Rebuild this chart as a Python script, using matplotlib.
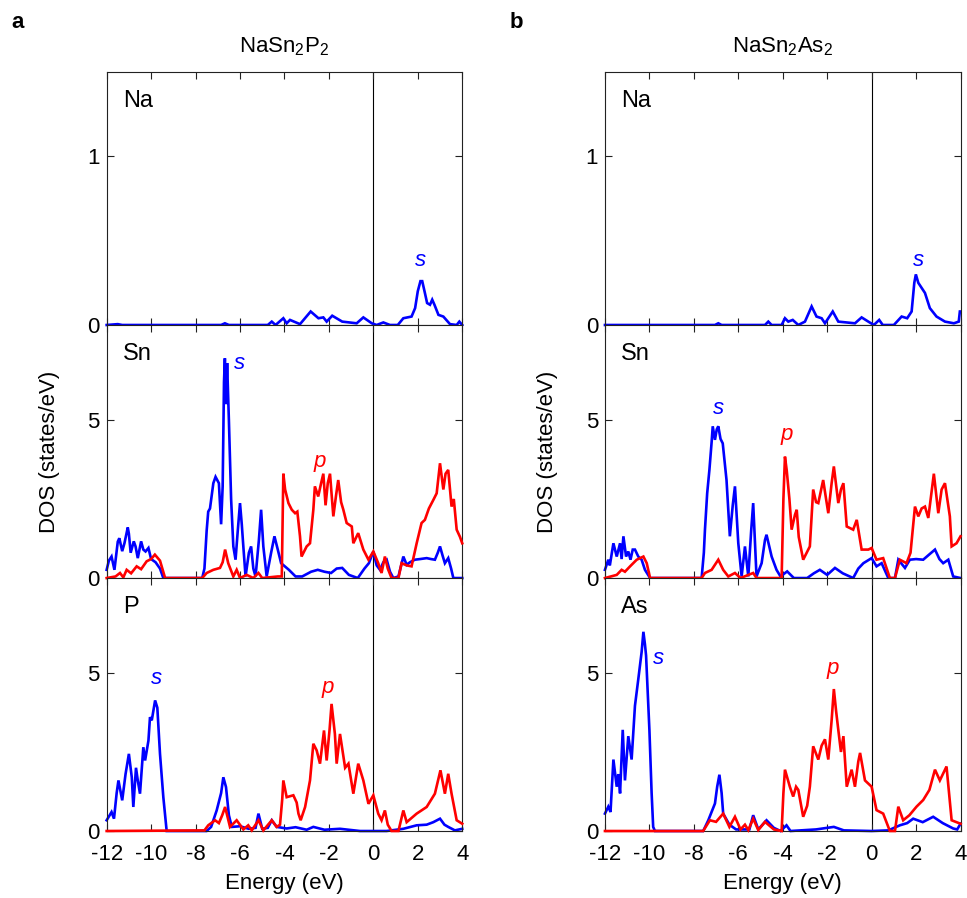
import numpy as np
import matplotlib
matplotlib.use("Agg")
import matplotlib.pyplot as plt

plt.rcParams['font.family'] = ['Liberation Sans', 'DejaVu Sans']
plt.rcParams['mathtext.fontset'] = 'custom'
plt.rcParams['mathtext.rm'] = 'Liberation Sans'
plt.rcParams['mathtext.it'] = 'Liberation Sans:italic'

BLUE = '#0000ff'
RED = '#ff0000'

# ---- data: (energy eV, DOS states/eV) ----
# panel a: NaSn2P2
na_a_s = [(-12, 0), (-11.5, 0.005), (-11.3, 0), (-6.85, 0), (-6.68, 0.01), (-6.5, 0), (-4.75, 0),
          (-4.57, 0.02), (-4.4, 0), (-4.05, 0.04), (-3.9, 0.01), (-3.75, 0.03), (-3.3, 0.005),
          (-2.82, 0.08), (-2.47, 0.04), (-2.25, 0.045), (-2.1, 0.02), (-1.85, 0.055), (-1.4, 0.02),
          (-0.75, 0.01), (-0.45, 0.045), (-0.07, 0.01), (0.15, 0), (0.45, 0.015), (0.75, 0), (1.1, 0),
          (1.35, 0.04), (1.72, 0.05), (1.88, 0.1), (2.0, 0.2), (2.12, 0.26), (2.2, 0.26), (2.32, 0.19),
          (2.42, 0.13), (2.55, 0.12), (2.65, 0.15), (2.75, 0.12), (2.93, 0.06), (3.15, 0.05),
          (3.45, 0.005), (3.75, 0), (3.87, 0.02), (4.0, 0)]

sn_a_s = [(-12, 0.26), (-11.9, 0.55), (-11.78, 0.68), (-11.65, 0.26), (-11.5, 1.15), (-11.43, 1.26),
          (-11.3, 0.85), (-11.2, 1.1), (-11.05, 1.6), (-11.0, 1.4), (-10.92, 0.8), (-10.78, 1.16),
          (-10.7, 1.0), (-10.6, 0.63), (-10.45, 1.16), (-10.35, 0.9), (-10.25, 0.84), (-10.12, 0.95),
          (-10.0, 0.6), (-9.8, 0.5), (-9.6, 0.3), (-9.45, 0), (-7.7, 0), (-7.6, 0.3), (-7.5, 1.5),
          (-7.43, 2.1), (-7.35, 2.2), (-7.2, 3.0), (-7.1, 3.2), (-6.95, 3.0), (-6.85, 1.7),
          (-6.78, 2.9), (-6.72, 6.2), (-6.68, 6.95), (-6.63, 5.5), (-6.58, 6.8), (-6.5, 5.0),
          (-6.4, 2.5), (-6.3, 1.0), (-6.2, 0.58), (-6.1, 1.5), (-6.0, 2.37), (-5.92, 1.7),
          (-5.85, 1.0), (-5.75, 0.05), (-5.6, 0.8), (-5.5, 1.0), (-5.4, 0.3), (-5.3, 0.05),
          (-5.15, 1.2), (-5.05, 2.16), (-4.95, 1.0), (-4.8, 0.05), (-4.6, 0.8), (-4.45, 1.32),
          (-4.3, 0.9), (-4.15, 0.47), (-3.8, 0.26), (-3.5, 0.05), (-3.2, 0.05), (-2.8, 0.2),
          (-2.5, 0.26), (-2.2, 0.2), (-1.9, 0.16), (-1.65, 0.3), (-1.4, 0.32), (-1.1, 0.1),
          (-0.7, 0), (-0.4, 0.3), (-0.2, 0.47), (0, 0.84), (0.15, 0.4), (0.3, 0.26), (0.45, 0.5),
          (0.6, 0.58), (0.75, 0.2), (0.9, 0), (1.13, 0.05), (1.35, 0.68), (1.5, 0.42), (1.65, 0.5),
          (1.87, 0.58), (2.1, 0.6), (2.4, 0.63), (2.6, 0.6), (2.77, 0.58), (2.9, 0.8), (3.0, 1.0),
          (3.12, 0.7), (3.22, 0.47), (3.37, 0.63), (3.5, 0.3), (3.6, 0), (4.0, 0)]

sn_a_p = [(-12, 0), (-11.6, 0.05), (-11.4, 0.16), (-11.25, 0.02), (-11.1, 0.26), (-10.9, 0.15),
          (-10.65, 0.37), (-10.45, 0.28), (-10.2, 0.53), (-10.0, 0.6), (-9.83, 0.74), (-9.6, 0.55),
          (-9.37, 0), (-7.7, 0), (-7.5, 0.16), (-7.2, 0.26), (-6.9, 0.32), (-6.78, 0.5), (-6.67, 0.9),
          (-6.53, 0.47), (-6.3, 0.05), (-6.15, 0.26), (-6.0, 0), (-5.7, 0.1), (-5.4, 0), (-5.17, 0.16),
          (-5.0, 0), (-4.3, 0.05), (-4.12, 0.05), (-4.05, 3.3), (-3.97, 2.8), (-3.82, 2.37),
          (-3.67, 2.16), (-3.52, 2.05), (-3.42, 2.1), (-3.3, 1.32), (-3.23, 0.68), (-3.0, 1.0),
          (-2.85, 1.1), (-2.7, 2.16), (-2.63, 2.9), (-2.48, 2.58), (-2.35, 3.0), (-2.25, 3.3),
          (-2.15, 2.3), (-2.05, 3.0), (-1.95, 3.3), (-1.8, 1.95), (-1.68, 2.6), (-1.58, 3.1),
          (-1.45, 2.4), (-1.35, 2.16), (-1.2, 1.74), (-0.97, 1.63), (-0.9, 1.1), (-0.68, 1.42),
          (-0.45, 0.9), (-0.22, 0.58), (0, 0.84), (0.22, 0.47), (0.37, 0.16), (0.52, 0.68),
          (0.65, 0.3), (0.82, 0), (1.13, 0), (1.27, 0.47), (1.5, 0.4), (1.72, 0.37), (1.95, 1.1),
          (2.17, 1.74), (2.32, 1.84), (2.5, 2.2), (2.7, 2.47), (2.85, 2.68), (3.0, 3.63), (3.15, 2.8),
          (3.25, 3.3), (3.37, 3.42), (3.52, 2.26), (3.62, 2.5), (3.75, 1.53), (3.9, 1.3), (4.0, 1.1)]

p_a_s = [(-12, 0.34), (-11.78, 0.6), (-11.67, 0.39), (-11.55, 1.2), (-11.47, 1.6), (-11.3, 0.97),
         (-11.15, 1.8), (-11.0, 2.44), (-10.87, 1.7), (-10.8, 0.76), (-10.68, 2.0), (-10.6, 1.6),
         (-10.5, 1.18), (-10.35, 2.65), (-10.27, 2.23), (-10.12, 2.86), (-10.05, 3.6), (-9.97, 3.5),
         (-9.82, 4.13), (-9.72, 3.9), (-9.6, 2.44), (-9.45, 1.07), (-9.3, 0), (-7.5, 0), (-7.3, 0.13),
         (-7.05, 0.65), (-6.85, 1.2), (-6.75, 1.7), (-6.63, 1.39), (-6.5, 0.5), (-6.37, 0.13),
         (-6.0, 0.15), (-5.6, 0.07), (-5.3, 0.1), (-5.17, 0.55), (-5.0, 0.07), (-4.75, 0.1),
         (-4.57, 0.34), (-4.35, 0.13), (-3.9, 0.08), (-3.5, 0.12), (-3.0, 0.04), (-2.7, 0.13),
         (-2.2, 0.04), (-1.5, 0.07), (-0.6, 0), (0.6, 0), (1.35, 0.07), (1.95, 0.18), (2.4, 0.2),
         (2.7, 0.28), (3.0, 0.39), (3.2, 0.2), (3.37, 0.13), (3.67, 0.02), (4.0, 0.07)]

p_a_p = [(-12, 0), (-7.6, 0.02), (-7.43, 0.18), (-7.12, 0.34), (-6.95, 0.25), (-6.8, 0.5),
         (-6.67, 0.76), (-6.45, 0.13), (-6.15, 0.34), (-5.85, 0.05), (-5.63, 0.18), (-5.47, 0.02),
         (-5.17, 0.34), (-4.95, 0.02), (-4.57, 0.34), (-4.35, 0.13), (-4.2, 0.2), (-4.1, 1.0),
         (-4.05, 1.6), (-3.9, 1.07), (-3.6, 1.13), (-3.45, 0.9), (-3.37, 0.55), (-3.27, 0.34),
         (-3.07, 0.76), (-2.85, 1.6), (-2.7, 2.76), (-2.55, 2.55), (-2.4, 2.13), (-2.22, 3.18),
         (-2.1, 2.23), (-1.97, 3.2), (-1.88, 4.02), (-1.73, 3.07), (-1.65, 2.13), (-1.5, 3.07),
         (-1.27, 2.0), (-1.12, 2.13), (-0.9, 1.18), (-0.68, 2.13), (-0.45, 1.6), (-0.22, 0.86),
         (0, 1.13), (0.22, 0.55), (0.37, 0.34), (0.52, 0.65), (0.65, 0.2), (0.82, 0), (1.13, 0),
         (1.35, 0.65), (1.5, 0.28), (1.95, 0.55), (2.4, 0.76), (2.77, 1.18), (3.02, 1.92),
         (3.22, 1.18), (3.37, 1.81), (3.52, 1.18), (3.75, 0.34), (4.0, 0.23)]

# panel b: NaSn2As2
na_b_s = [(-12, 0), (-7.05, 0), (-6.9, 0.01), (-6.75, 0), (-4.8, 0), (-4.65, 0.02), (-4.5, 0),
          (-4.05, 0), (-3.9, 0.04), (-3.75, 0.02), (-3.55, 0.03), (-3.3, 0.0), (-3.0, 0.02),
          (-2.7, 0.11), (-2.48, 0.05), (-2.25, 0.04), (-2.1, 0.01), (-1.75, 0.08), (-1.5, 0.02),
          (-0.75, 0.01), (-0.45, 0.045), (-0.15, 0.02), (0.1, 0), (0.34, 0.03), (0.5, 0), (1.0, 0),
          (1.35, 0.05), (1.6, 0.04), (1.8, 0.08), (1.92, 0.25), (1.99, 0.3), (2.1, 0.25),
          (2.2, 0.23), (2.4, 0.19), (2.62, 0.1), (2.92, 0.05), (3.3, 0.02), (3.7, 0.01),
          (3.92, 0.02), (3.97, 0.08), (4.0, 0.08)]

sn_b_s = [(-12, 0.26), (-11.85, 0.58), (-11.78, 0.4), (-11.62, 1.1), (-11.47, 0.68), (-11.32, 1.1),
          (-11.25, 0.6), (-11.17, 1.32), (-11.05, 0.68), (-10.95, 0.84), (-10.85, 0.58),
          (-10.75, 0.9), (-10.65, 0.9), (-10.5, 0.68), (-10.35, 0.58), (-10.2, 0.26), (-9.97, 0),
          (-7.65, 0), (-7.55, 0.8), (-7.5, 1.53), (-7.4, 2.68), (-7.3, 3.42), (-7.2, 4.3),
          (-7.15, 4.8), (-7.05, 4.37), (-6.97, 4.7), (-6.9, 4.8), (-6.8, 4.4), (-6.7, 4.26),
          (-6.53, 3.1), (-6.38, 1.32), (-6.25, 2.3), (-6.15, 2.9), (-6.0, 1.1), (-5.85, 0.05),
          (-5.7, 1.0), (-5.55, 0.05), (-5.42, 1.5), (-5.33, 2.37), (-5.18, 0.05), (-4.95, 0.47),
          (-4.8, 1.2), (-4.73, 1.37), (-4.5, 0.68), (-4.28, 0.26), (-4.1, 0.05), (-3.8, 0.21),
          (-3.5, 0), (-2.9, 0), (-2.6, 0.15), (-2.33, 0.26), (-2.0, 0.1), (-1.65, 0.32),
          (-1.3, 0.15), (-0.83, 0), (-0.6, 0.3), (-0.37, 0.47), (0, 0.63), (0.22, 0.37),
          (0.45, 0.47), (0.75, 0), (1.05, 0), (1.2, 0.58), (1.5, 0.32), (1.72, 0.58), (2.0, 0.6),
          (2.32, 0.58), (2.6, 0.75), (2.85, 0.9), (3.05, 0.6), (3.22, 0.47), (3.45, 0.58),
          (3.67, 0.05), (4.0, 0)]

sn_b_p = [(-12, 0), (-11.47, 0.1), (-11.25, 0.26), (-11.1, 0.2), (-10.87, 0.37), (-10.57, 0.58),
          (-10.27, 0.68), (-10.12, 0.47), (-9.97, 0), (-7.65, 0), (-7.5, 0.16), (-7.2, 0.26),
          (-6.9, 0.58), (-6.68, 0.26), (-6.45, 0.05), (-6.15, 0.16), (-5.9, 0), (-5.33, 0.16),
          (-5.18, 0), (-4.05, 0), (-3.97, 2.5), (-3.9, 3.84), (-3.82, 3.4), (-3.7, 2.5),
          (-3.6, 1.53), (-3.45, 2.0), (-3.37, 2.16), (-3.28, 1.3), (-3.08, 0.58), (-2.78, 1.0),
          (-2.63, 2.8), (-2.5, 2.4), (-2.4, 2.37), (-2.18, 3.1), (-2.05, 2.5), (-1.95, 2.05),
          (-1.8, 3.0), (-1.7, 3.53), (-1.5, 2.37), (-1.38, 2.8), (-1.27, 3.0), (-1.12, 1.63),
          (-0.83, 1.53), (-0.67, 1.84), (-0.45, 0.9), (-0.15, 0.9), (0, 0.95), (0.22, 0.58),
          (0.52, 0.63), (0.82, 0), (1.05, 0), (1.27, 0.58), (1.57, 0.47), (1.75, 0.8), (1.95, 2.26),
          (2.1, 1.95), (2.25, 2.2), (2.4, 2.26), (2.55, 1.9), (2.8, 3.3), (3.0, 2.05), (3.15, 2.8),
          (3.3, 3.0), (3.52, 1.95), (3.6, 1.0), (3.82, 1.1), (4.0, 1.32)]

as_b_s = [(-12, 0.55), (-11.85, 0.77), (-11.75, 0.6), (-11.62, 2.26), (-11.47, 1.4), (-11.4, 1.8),
          (-11.32, 1.19), (-11.2, 3.2), (-11.1, 1.6), (-10.95, 3.0), (-10.8, 2.26), (-10.65, 3.96),
          (-10.5, 4.8), (-10.35, 5.66), (-10.27, 6.3), (-10.2, 5.9), (-10.15, 5.55), (-10.0, 3.2),
          (-9.9, 1.2), (-9.83, 0.13), (-9.75, 0), (-7.58, 0), (-7.35, 0.34), (-7.05, 0.87),
          (-6.95, 1.4), (-6.85, 1.78), (-6.75, 1.2), (-6.68, 0.55), (-6.4, 0.2), (-6.1, 0.05),
          (-5.5, 0.05), (-5.33, 0.5), (-5.1, 0.05), (-4.73, 0.34), (-4.4, 0.1), (-4.1, 0),
          (-3.83, 0.18), (-3.65, 0), (-2.5, 0.05), (-1.7, 0.13), (-1.25, 0.02), (0, 0), (0.75, 0.02),
          (1.27, 0.18), (1.6, 0.25), (1.87, 0.39), (2.3, 0.28), (2.77, 0.45), (3.2, 0.25),
          (3.67, 0.08), (3.85, 0.05), (4.0, 0.23)]

as_b_p = [(-12, 0), (-7.58, 0), (-7.28, 0.34), (-7.0, 0.29), (-6.68, 0.55), (-6.4, 0.13),
          (-6.15, 0.45), (-5.9, 0.05), (-5.7, 0.2), (-5.55, 0.03), (-5.33, 0.39), (-5.1, 0.03),
          (-4.8, 0.29), (-4.4, 0.05), (-4.05, 0), (-3.97, 1.2), (-3.9, 1.94), (-3.68, 1.4),
          (-3.53, 1.09), (-3.4, 1.4), (-3.3, 1.3), (-3.08, 0.45), (-2.9, 0.8), (-2.78, 1.4),
          (-2.63, 2.68), (-2.4, 2.26), (-2.25, 2.7), (-2.1, 2.9), (-1.95, 2.26), (-1.8, 3.5),
          (-1.7, 4.49), (-1.6, 3.8), (-1.5, 3.2), (-1.38, 2.5), (-1.27, 3.0), (-1.12, 1.4),
          (-0.9, 1.94), (-0.75, 1.4), (-0.6, 2.2), (-0.52, 2.47), (-0.3, 1.6), (0, 1.4),
          (0.22, 0.66), (0.52, 0.55), (0.82, 0), (1.05, 0), (1.2, 0.77), (1.42, 0.34), (1.7, 0.5),
          (2.02, 0.77), (2.32, 0.98), (2.6, 1.3), (2.85, 1.94), (3.07, 1.6), (3.37, 2.04),
          (3.6, 0.34), (4.0, 0.23)]

titles = ['NaSn$_2$P$_2$', 'NaSn$_2$As$_2$']
panel_letters = ['a', 'b']
elements = [['Na', 'Sn', 'P'], ['Na', 'Sn', 'As']]
curves = [[[na_a_s], [sn_a_s, sn_a_p], [p_a_s, p_a_p]],
          [[na_b_s], [sn_b_s, sn_b_p], [as_b_s, as_b_p]]]
# orbital labels: (label, energy, dos) per row
orbital_labels = [
    [[('s', 2.1, 0.385)], [('s', -6.0, 6.8), ('p', -2.4, 3.68)], [('s', -9.75, 4.81), ('p', -2.03, 4.55)]],
    [[('s', 2.1, 0.385)], [('s', -6.9, 5.37), ('p', -3.82, 4.53)], [('s', -9.6, 5.45), ('p', -1.73, 5.13)]],
]

ylims = [1.5, 8, 8]
yticks = [[0, 1], [0, 5], [0, 5]]
xticks = np.arange(-12, 5, 2)

fig = plt.figure(figsize=(9.67, 8.98), dpi=100)
col_left = [0.1103, 0.6256]
width = 0.3677
bottoms = [0.6381, 0.3563, 0.0746]
height = 0.2817
FS = 16

for c in range(2):
    for r in range(3):
        ax = fig.add_axes([col_left[c], bottoms[r], width, height])
        ax.axvline(0, color='black', lw=0.8, zorder=1)
        for k, cur in enumerate(curves[c][r]):
            arr = np.array(cur)
            ax.plot(arr[:, 0], arr[:, 1], color=BLUE if k == 0 else RED, lw=1.9,
                    clip_on=False, zorder=3 if k == 1 else 2, solid_joinstyle='miter')
        for lab, ex, ey in orbital_labels[c][r]:
            ax.text(ex, ey, lab, color=BLUE if lab == 's' else RED, fontsize=FS,
                    style='italic', ha='center', va='center')
        ax.text(0.045, 0.885, elements[c][r], transform=ax.transAxes, fontsize=FS + 1,
                ha='left', va='center')
        ax.set_xlim(-12, 4)
        ax.set_ylim(0, ylims[r])
        ax.set_xticks(xticks)
        ax.set_yticks(yticks[r])
        ax.tick_params(direction='in', top=True, right=True, length=5, width=0.8,
                       labelsize=FS, colors='#222222', labelcolor='black')
        ax.tick_params(axis='y', pad=5)
        ax.tick_params(axis='x', pad=9)
        for sp in ax.spines.values():
            sp.set_linewidth(0.8)
            sp.set_color('#222222')
        if r < 2:
            ax.tick_params(labelbottom=False)
        else:
            ax.set_xticklabels([str(t) for t in xticks])
            ax.set_xlabel('Energy (eV)', fontsize=FS, labelpad=6)
        if r == 0:
            ax.set_title(titles[c], fontsize=FS, pad=14)
        if r == 1:
            ax.set_ylabel('DOS (states/eV)', fontsize=FS, labelpad=20)
    fig.text(col_left[c] - 0.092, 0.975, panel_letters[c], fontsize=FS, fontweight='bold',
             ha='center', va='center')

fig.savefig('out.png', dpi=100)
